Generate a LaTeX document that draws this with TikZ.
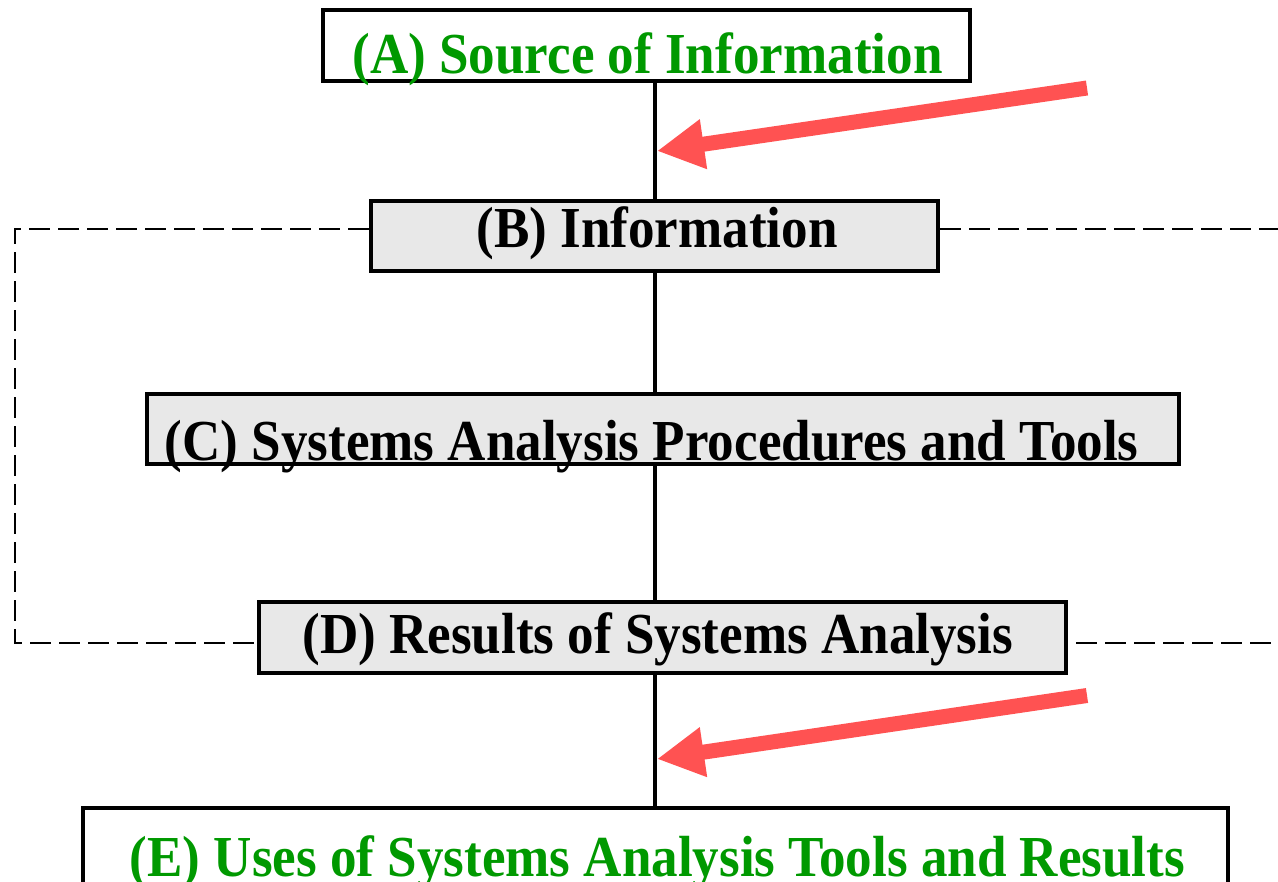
\documentclass[tikz,border=0pt]{standalone}
\usepackage{fontspec}
\setmainfont{Liberation Serif}[FakeStretch=0.915]
\usetikzlibrary{arrows.meta}
\definecolor{grn}{RGB}{0,153,0}
\definecolor{salmon}{RGB}{255,82,82}
\definecolor{boxgray}{RGB}{232,232,232}
\begin{document}
\begin{tikzpicture}[x=1pt,y=-1pt,
  box/.style={draw=black,line width=4.5pt,inner sep=0pt,rectangle},
  graybox/.style={box,fill=boxgray},
  whitebox/.style={box,fill=white},
  lbl/.style={inner sep=0pt,anchor=base,font=\fontsize{58}{64}\selectfont\bfseries},
  spine/.style={draw=black,line width=4pt},
  loop/.style={draw=black,line width=2.5pt,dash pattern=on 21pt off 8pt},
  bigarrow/.style={draw=salmon,fill=salmon,line width=15pt,-{Triangle[length=47pt,width=47pt]}}
]
\useasboundingbox (0,0) rectangle (1278,882);
\clip (0,0) rectangle (1278,882);
\fill[white] (0,0) rectangle (1278,882);

% boxes
\node[whitebox,minimum width=647pt,minimum height=71pt] (boxA) at (646.5,45.5) {};
\node[graybox,minimum width=567pt,minimum height=70pt] (boxB) at (654.5,236) {};
\node[graybox,minimum width=1032pt,minimum height=70pt] (boxC) at (663,429) {};
\node[graybox,minimum width=807pt,minimum height=71pt] (boxD) at (662.5,637.5) {};
\node[whitebox,minimum width=1145pt,minimum height=142pt] (boxE) at (655.5,879) {};

% labels
\node[lbl,text=grn] (tA) at (647.5,74) {(A) Source of Information};
\node[lbl,text=black] (tB) at (657,248) {(B) Information};
\node[lbl,text=black] (tC) at (651.7,461) {(C) Systems Analysis Procedures and Tools};
\node[lbl,text=black] (tD) at (657.7,653) {(D) Results of Systems Analysis};
\node[lbl,text=grn] (tE) at (657.5,876) {(E) Uses of Systems Analysis Tools and Results};

% spine
\coordinate (sp) at (655,0);
\draw[spine] (boxA.south -| sp) -- (boxB.north -| sp);
\draw[spine] (boxB.south -| sp) -- (boxC.north -| sp);
\draw[spine] (boxC.south -| sp) -- (boxD.north -| sp);
\draw[spine] (boxD.south -| sp) -- (boxE.north -| sp);

% dashed feedback loop
\coordinate (dl1) at (15,229);
\coordinate (dl2) at (15,643);
\coordinate (dr1) at (1290,229);
\coordinate (dr2) at (1290,643);
\draw[loop] (boxB.west |- dl1) -- (dl1) -- (dl2) -- (boxD.west |- dl2);
\draw[loop] (boxB.east |- dr1) -- (dr1) -- (dr2) -- (boxD.east |- dr2);

% red arrows
\coordinate (a1tail) at (1087,88);
\coordinate (a1tip) at (657,151);
\coordinate (a2tail) at (1087,695.5);
\coordinate (a2tip) at (657,759);
\draw[bigarrow] (a1tail) -- (a1tip);
\draw[bigarrow] (a2tail) -- (a2tip);
\end{tikzpicture}
\end{document}
